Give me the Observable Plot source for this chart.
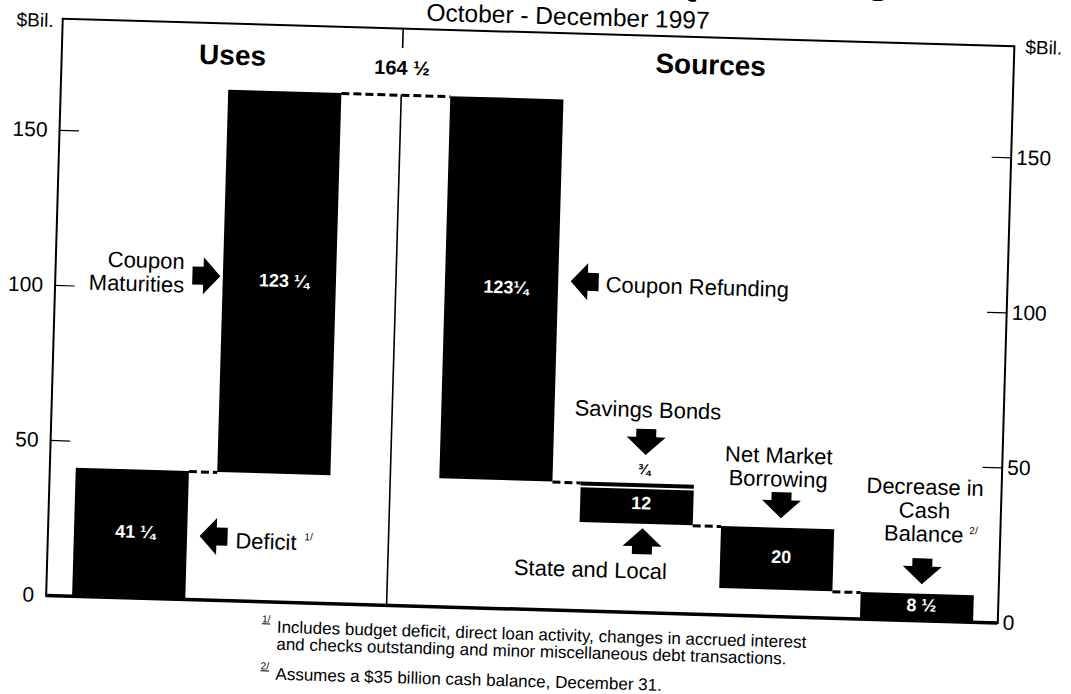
<!DOCTYPE html>
<html>
<head>
<meta charset="utf-8">
<script src="https://cdn.jsdelivr.net/npm/d3@7"></script>
<script src="https://cdn.jsdelivr.net/npm/@observablehq/plot@0.6"></script>
<style>
  html, body { margin: 0; padding: 0; background: #fff; overflow: hidden; }
  #page {
    position: relative; width: 1071px; height: 694px;
    transform: rotate(1.65deg); transform-origin: 535px 347px;
    font-family: "Liberation Sans", Arial, Helvetica, sans-serif; color: #000;
  }
  #chart svg { position: absolute; left: 0; top: 0; }
  .abs { position: absolute; white-space: nowrap; }
  #suptitle { right: 193px; top: -36.5px; font-size: 32px; line-height: 32px; font-weight: bold; }
  #title { left: 0; width: 1117px; text-align: center; top: 3.5px; font-size: 24.5px; line-height: 24px; }
  .foot { left: 285px; font-size: 17px; line-height: 17px; }
  .fmark { left: 270px; font-size: 10px; line-height: 10px; text-decoration: underline; }
</style>
</head>
<body>
<div id="page">
  <div id="chart"></div>
  <div class="abs" id="suptitle">FINANCING REQUIREMENTS</div>
  <div class="abs" id="title">October - December 1997</div>
  <div class="abs fmark" style="top:622px">1/</div>
  <div class="abs foot" style="top:626px">Includes budget deficit, direct loan activity, changes in accrued interest</div>
  <div class="abs foot" style="top:643px">and checks outstanding and minor miscellaneous debt transactions.</div>
  <div class="abs fmark" style="top:669px">2/</div>
  <div class="abs foot" style="top:673px">Assumes a $35 billion cash balance, December 31.</div>
</div>
<script>
// ---- data ----
const categories = ["Deficit", "Coupon Maturities", "Coupon Refunding", "Savings Bonds",
                    "State and Local", "Net Market Borrowing", "Decrease in Cash Balance"];
const groups = ["Uses", "Uses", "Sources", "Sources", "Sources", "Sources", "Sources"];
const amounts = [41.25, 123.25, 123.25, 0.75, 12, 20, 8.5];
const amountLabels = ["41 ¼", "123 ¼", "123¼", "¾", "12", "20", "8 ½"];
const columns = [0, 1, 2, 3, 3, 4, 5];
const annotationTexts = ["Deficit", "Coupon\nMaturities", "Coupon Refunding", "Savings Bonds",
                         "State and Local", "Net Market\nBorrowing", "Decrease in\nCash\nBalance"];
const footnoteRefs = ["1/", "", "", "", "", "", "2/"];
const yTicks = [0, 50, 100, 150];
const yTickLabels = ["0", "50", "100", "150"];
const totalValue = 164.5;
const totalLabel = "164 ½";
const axisUnit = "$Bil.";

// ---- layout ----
const SOURCES_SHIFT = 0.57, HALF = 0.4, DIVIDER = 1.82;
const X_DOMAIN = [-0.587, 6.141], Y_DOMAIN = [0, 186];

let level = 0;
const bars = categories.map((c, i) => {
  const sign = groups[i] === "Uses" ? 1 : -1;
  const start = level, end = level + sign * amounts[i];
  level = end;
  const xc = columns[i] + (groups[i] === "Sources" ? SOURCES_SHIFT : 0);
  return {category: c, group: groups[i], start, end,
          y1: Math.min(start, end), y2: Math.max(start, end), mid: (start + end) / 2,
          xc, x1: xc - HALF, x2: xc + HALF, label: amountLabels[i],
          note: annotationTexts[i], ref: footnoteRefs[i]};
});
const connectors = [];
for (let i = 0; i < bars.length - 1; i++) {
  if (bars[i + 1].xc !== bars[i].xc)
    connectors.push({y: bars[i].end, x1: bars[i].x2, x2: bars[i + 1].x1});
}
const byCat = Object.fromEntries(bars.map(b => [b.category, b]));
const groupCenter = g => d3.mean([...new Set(bars.filter(b => b.group === g).map(b => b.xc))]);

function arrowSymbol(angle, len, headLen, headSpan, shaftSpan) {
  const pts = [[-len/2, -shaftSpan/2], [len/2 - headLen, -shaftSpan/2], [len/2 - headLen, -headSpan/2],
               [len/2, 0], [len/2 - headLen, headSpan/2], [len/2 - headLen, shaftSpan/2], [-len/2, shaftSpan/2]];
  const a = angle * Math.PI / 180, c = Math.cos(a), s = Math.sin(a);
  const r = pts.map(([x, y]) => [x * c - y * s, x * s + y * c]);
  return {draw(ctx) { ctx.moveTo(...r[0]); for (const p of r.slice(1)) ctx.lineTo(...p); ctx.closePath(); }};
}
const RIGHT = arrowSymbol(0, 28, 17, 37, 18);
const LEFT = arrowSymbol(180, 28, 17, 37, 18);
const DOWN = arrowSymbol(90, 26, 18, 39, 20);
const UP = arrowSymbol(-90, 26, 18, 39, 20);

const arrow = (cat, x, y, symbol, dx, dy) =>
  Plot.dot([byCat[cat]], {x, y, symbol, r: 10, fill: "#000", stroke: "none", dx, dy});
const note = (cat, x, y, textAnchor, dx, dy, extra = {}) =>
  Plot.text([byCat[cat]], {x, y, text: "note", textAnchor, dx, dy, fontSize: 22, lineHeight: 1.07, fill: "#000", ...extra});
const ref = (cat, x, y, dx, dy) =>
  Plot.text([byCat[cat]], {x, y, text: "ref", dx, dy, fontSize: 10, fill: "#000"});

const mainBars = bars.filter(b => b.category !== "Savings Bonds" && b.category !== "State and Local");

const chart = Plot.plot({
  width: 1071, height: 694,
  marginLeft: 53, marginRight: 66, marginTop: 32, marginBottom: 85,
  style: {fontFamily: "'Liberation Sans', Arial, Helvetica, sans-serif", color: "#000", background: "transparent", overflow: "visible"},
  x: {type: "linear", domain: X_DOMAIN, axis: null},
  y: {domain: Y_DOMAIN, axis: null},
  marks: [
    Plot.frame({stroke: "#000", strokeWidth: 2}),
    Plot.ruleY([0], {stroke: "#000", strokeWidth: 3.5}),
    Plot.axisY({anchor: "left", ticks: yTicks, tickFormat: d => yTickLabels[yTicks.indexOf(d)],
                tickSize: -20, tickPadding: 32, fontSize: 21, stroke: "#000", strokeWidth: 1.2}),
    Plot.axisY({anchor: "right", ticks: yTicks, tickFormat: d => yTickLabels[yTicks.indexOf(d)],
                tickSize: -20, tickPadding: 25, fontSize: 21, stroke: "#000", strokeWidth: 1.2}),
    Plot.ruleX([DIVIDER], {y1: totalValue, y2: 0, stroke: "#000", strokeWidth: 1.6}),
    Plot.ruleX([DIVIDER], {y1: Y_DOMAIN[1], y2: Y_DOMAIN[1] - 6.4, stroke: "#000", strokeWidth: 1.6}),
    Plot.text([totalLabel], {x: DIVIDER, y: totalValue, text: d => d, dy: -27, fontSize: 20, fontWeight: "bold"}),
    Plot.text([axisUnit], {frameAnchor: "top-left", lineAnchor: "middle", text: d => d, textAnchor: "end", dx: -9, dy: 2.5, fontSize: 19}),
    Plot.text([axisUnit], {frameAnchor: "top-right", lineAnchor: "middle", text: d => d, textAnchor: "start", dx: 11, dy: 1, fontSize: 19}),
    Plot.text(["Uses"], {x: groupCenter("Uses"), frameAnchor: "top", lineAnchor: "middle", text: d => d, dx: 17, dy: 32, fontSize: 28, fontWeight: "bold"}),
    Plot.text(["Sources"], {x: groupCenter("Sources"), frameAnchor: "top", lineAnchor: "middle", text: d => d, dx: -10, dy: 28, fontSize: 28, fontWeight: "bold"}),
    // bars
    Plot.rect(mainBars, {x1: "x1", x2: "x2", y1: "y1", y2: "y2", fill: "#000"}),
    Plot.rect([byCat["Savings Bonds"]], {x1: "x1", x2: "x2", y1: "y1", y2: "y2", fill: "#000", insetTop: -0.8, insetBottom: -0.8}),
    Plot.rect([byCat["State and Local"]], {x1: "x1", x2: "x2", y1: "y1", y2: "y2", fill: "#000", insetTop: 2.5}),
    Plot.ruleY(connectors, {y: "y", x1: "x1", x2: "x2", stroke: "#000", strokeWidth: 3, strokeDasharray: "8,4"}),
    // value labels
    Plot.text(bars.filter(b => b.category !== "Savings Bonds"), {x: "xc", y: "mid", text: "label", dx: 4, dy: -2,
      fill: "#fff", fontSize: 18, fontWeight: "bold"}),
    Plot.text([byCat["Savings Bonds"]], {x: "xc", y: "y2", text: "label", dx: 6, dy: -15, fontSize: 15, fontWeight: "bold"}),
    // annotations
    arrow("Coupon Maturities", "x1", "mid", RIGHT, -17, -5),
    note("Coupon Maturities", "x1", "mid", "end", -39, -7),
    arrow("Coupon Refunding", "x2", "mid", LEFT, 26, -10),
    note("Coupon Refunding", "x2", "mid", "start", 47, -8),
    arrow("Deficit", "x2", "mid", LEFT, 26, 0),
    note("Deficit", "x2", "mid", "start", 48, 3.7),
    ref("Deficit", "x2", "mid", 121, -2),
    note("Savings Bonds", "xc", "y2", "middle", 8, -75),
    arrow("Savings Bonds", "xc", "y2", DOWN, 7, -42.7),
    arrow("State and Local", "xc", "y1", UP, 6, 17),
    note("State and Local", "xc", "y1", "middle", -45, 46.7),
    note("Net Market Borrowing", "xc", "y2", "middle", -1.4, -61),
    arrow("Net Market Borrowing", "xc", "y2", DOWN, 2.5, -23),
    note("Decrease in Cash Balance", "xc", "y2", "middle", 4.3, -84),
    arrow("Decrease in Cash Balance", "xc", "y2", DOWN, 3.7, -23),
    ref("Decrease in Cash Balance", "xc", "y2", 54, -65)
  ]
});
document.getElementById("chart").appendChild(chart);
</script>
</body>
</html>
